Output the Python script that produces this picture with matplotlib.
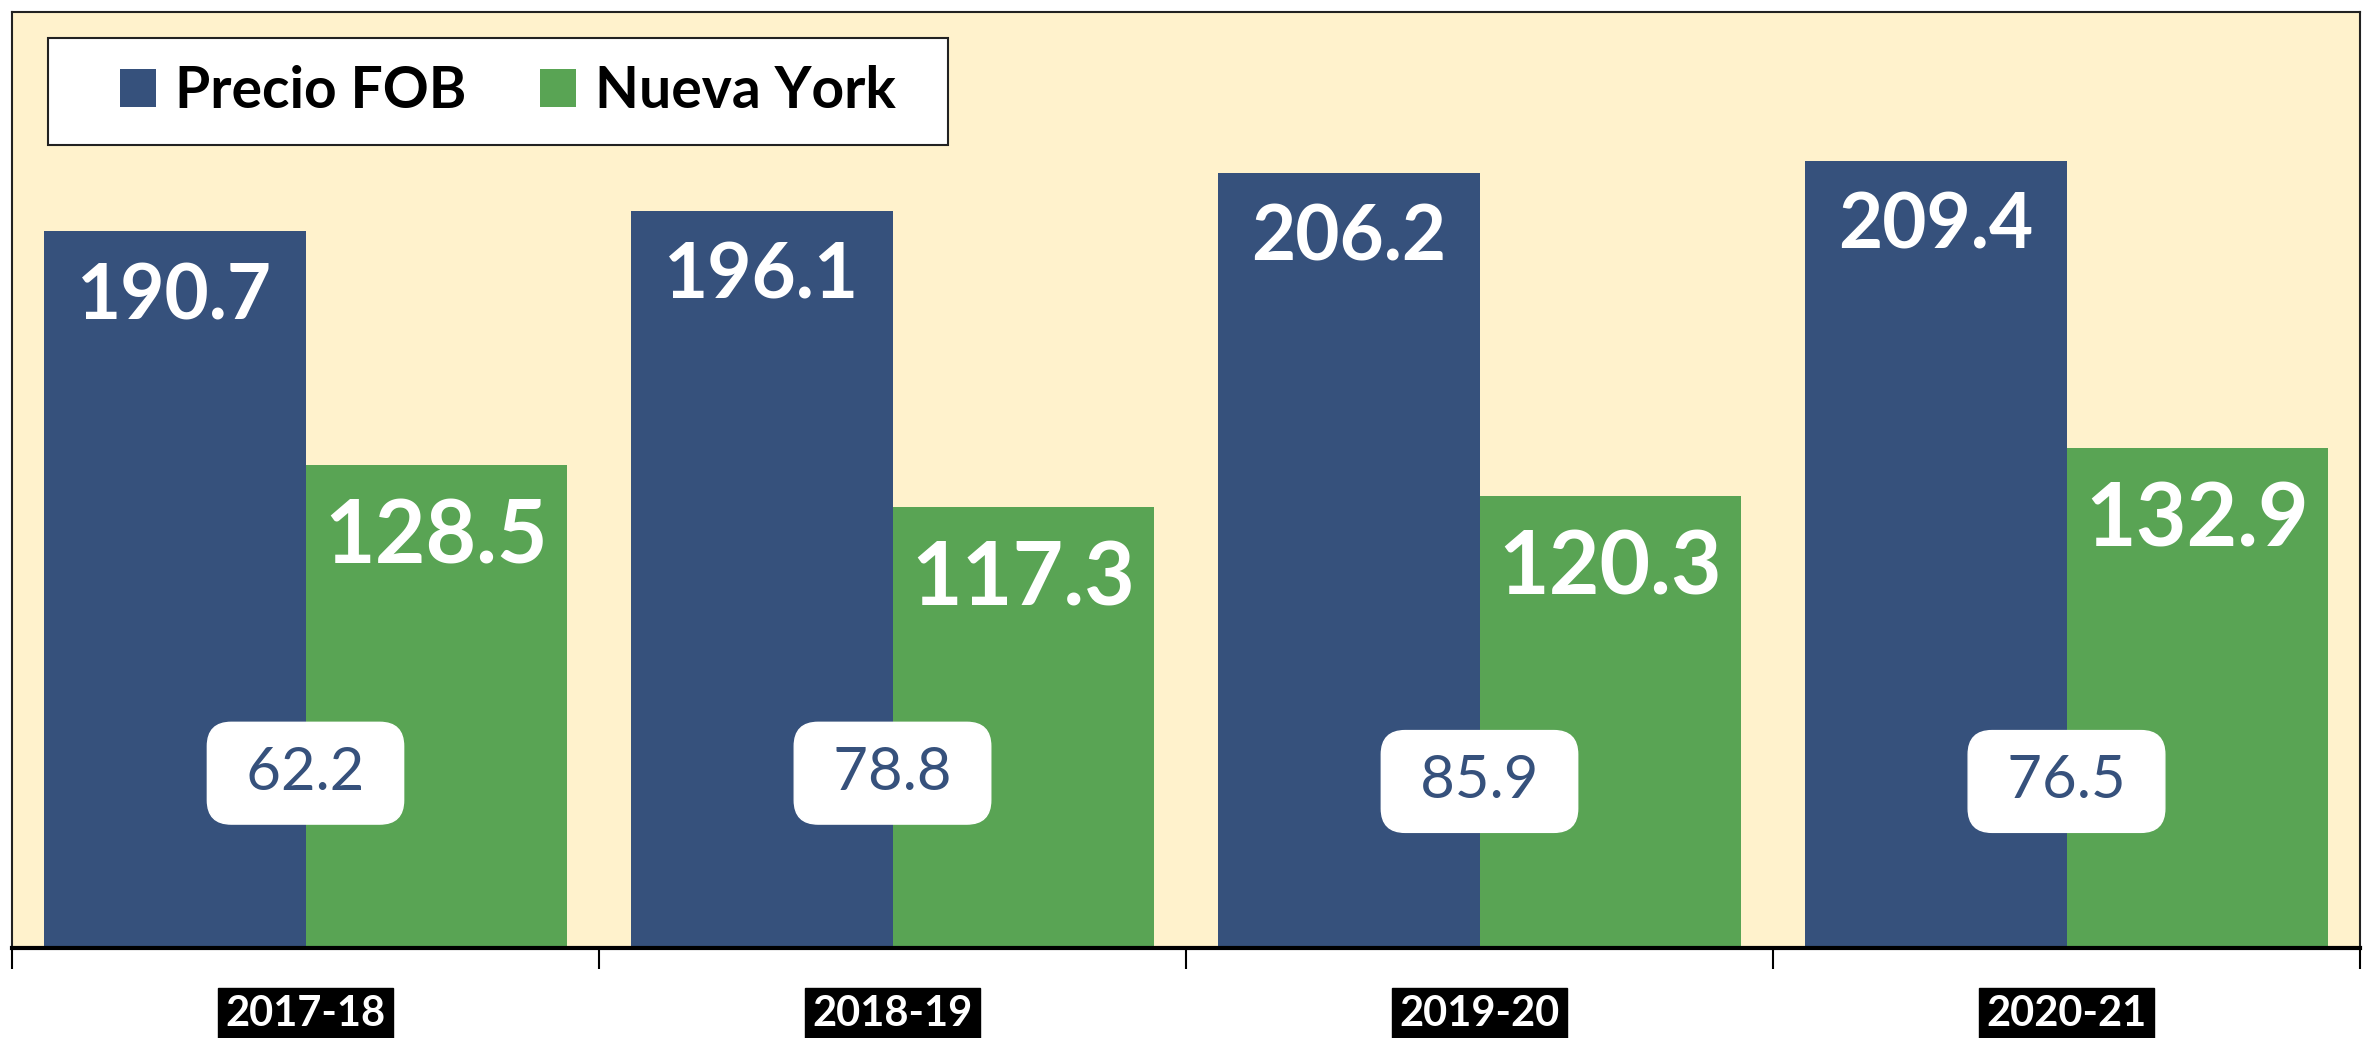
import matplotlib
matplotlib.use("Agg")
import matplotlib.pyplot as plt
from matplotlib.patches import Rectangle
import numpy as np

plt.rcParams['font.family'] = ['Lato', 'DejaVu Sans']

# data
seasons = ['2017-18', '2018-19', '2019-20', '2020-21']
precio_fob = [190.7, 196.1, 206.2, 209.4]
nueva_york = [128.5, 117.3, 120.3, 132.9]

blue = '#36517C'
green = '#59A454'
beige = '#FFF2CC'

W, H = 2367, 1038
fig = plt.figure(figsize=(W / 100, H / 100), dpi=100)
fig.patch.set_facecolor('white')
ax = fig.add_axes([12 / W, 1 - 948 / H, 2348 / W, 936 / H])
ax.set_facecolor(beige)

x = np.arange(len(seasons))
w = 0.445
b1 = ax.bar(x - w / 2, precio_fob, w, color=blue, label='Precio FOB')
b2 = ax.bar(x + w / 2, nueva_york, w, color=green, label='Nueva York')

ax.set_xlim(-0.5, len(seasons) - 0.5)
ax.set_ylim(0, 249)

# value labels just inside the top of each bar
for rect, v in zip(b1, precio_fob):
    ax.annotate(f'{v:.1f}', (rect.get_x() + rect.get_width() / 2, v),
                xytext=(0, -47.5), textcoords='offset points',
                ha='center', va='center', color='white',
                fontsize=55, fontweight='bold')
for rect, v in zip(b2, nueva_york):
    ax.annotate(f'{v:.1f}', (rect.get_x() + rect.get_width() / 2, v),
                xytext=(0, -52.5), textcoords='offset points',
                ha='center', va='center', color='white',
                fontsize=63, fontweight='bold')

# difference in a rounded white box between the two bars
diff = np.array(precio_fob) - np.array(nueva_york)
box_y = [46.5, 46.5, 44.3, 44.3]
for xi, d, yy in zip(x, diff, box_y):
    ax.text(xi, yy, f' {d:.1f} ', ha='center', va='center',
            color=blue, fontsize=43,
            bbox=dict(boxstyle='round,pad=0.4,rounding_size=0.4',
                      facecolor='white', edgecolor='white'))

# x axis: tick marks between groups, labels at group centres
ax.set_xticks(x)
ax.set_xticklabels(seasons, fontsize=30, fontweight='bold', color='white')
ax.tick_params(axis='x', which='major', length=0, pad=34)
ax.set_xticks(np.arange(-0.5, len(seasons), 1.0), minor=True)
ax.tick_params(axis='x', which='minor', length=15, width=1.5,
               direction='out', color='black')
for lab in ax.get_xticklabels():
    lab.set_bbox(dict(facecolor='black', edgecolor='black', pad=5))
ax.set_yticks([])

for s in ['left', 'top', 'right']:
    ax.spines[s].set_linewidth(1.5)
    ax.spines[s].set_color('#222222')
ax.spines['bottom'].set_linewidth(3)
ax.spines['bottom'].set_color('black')

# legend with a hand-drawn frame
ax.add_patch(Rectangle((0.0153, 0.858), 0.3833, 0.114, transform=ax.transAxes,
                       facecolor='white', edgecolor='#222222', linewidth=1.5,
                       zorder=4))
leg = ax.legend(loc='center', bbox_to_anchor=(0.2112, 0.915), ncol=2,
                frameon=False, prop={'size': 41, 'weight': 'bold'},
                handlelength=0.63, handleheight=0.63, handletextpad=0.33,
                columnspacing=1.3, borderpad=0)
leg.set_zorder(5)

fig.savefig('out.png', dpi=100)
